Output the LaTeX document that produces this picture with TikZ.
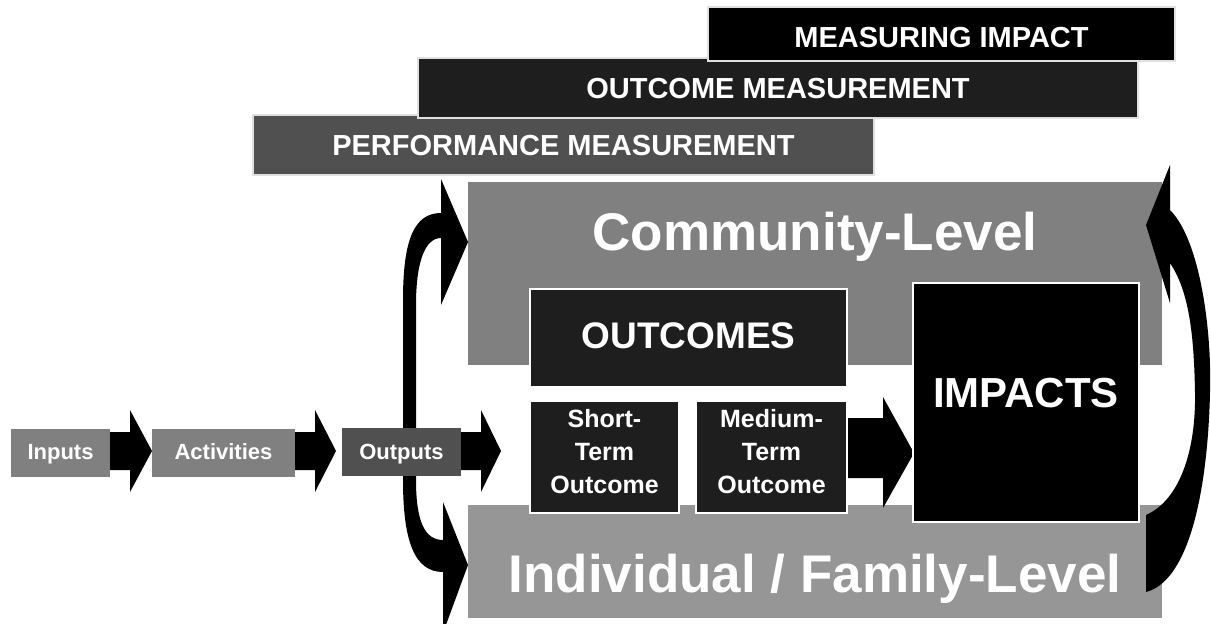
\documentclass[tikz,border=0pt]{standalone}
\usepackage{fontspec}
\setmainfont{Liberation Sans}
\definecolor{gmid}{HTML}{808080}
\definecolor{glight}{HTML}{969696}
\definecolor{gdark}{HTML}{505050}
\definecolor{gblack}{HTML}{1E1E1E}
\newcommand{\fs}[1]{\fontsize{#1}{#1}\selectfont\bfseries}
\begin{document}
\begin{tikzpicture}[x=1pt,y=-1pt,
  bar/.style={draw=white!88!black,line width=1.2pt},
  blk/.style={fill=black,draw=none},
  txt/.style={text=white,inner sep=0pt,anchor=base},
  boxed/.style={draw=white,line width=1.5pt},
  small/.style={text=white,inner sep=0pt,anchor=north,align=center,font=\fontsize{25}{33}\selectfont\bfseries}]
\useasboundingbox (0,0) rectangle (1211,624);
\fill[white] (0,0) rectangle (1211,624);
% measurement bars
\path[bar,fill=gdark] (253,115) rectangle (874,175);
\path[bar,fill=gblack] (418,58) rectangle (1138,118);
\path[bar,fill=black] (708,7) rectangle (1175,61);
\node[txt] (pm) at (563.5,155) {\fs{29}PERFORMANCE MEASUREMENT};
\node[txt] (om) at (778,98) {\fs{29}OUTCOME MEASUREMENT};
\node[txt] (mi) at (941.5,47) {\fs{29}MEASURING IMPACT};
% level boxes
\path[fill=gmid] (468,182) rectangle (1162,365);
\path[fill=glight] (468,505) rectangle (1162,618);
\node[txt] (comm) at (815,250) {\fs{53}Community-Level};
\node[txt] (indiv) at (815,592) {\fs{53}Individual / Family-Level};
% left bracket arrow
\path[blk] (441,213) -- (441,179) -- (468,242) -- (441,305) -- (441,238)
  .. controls (425,238) and (416,262) .. (416,305) -- (416,480)
  .. controls (416,522) and (425,540) .. (443,540) -- (443,502) -- (468,565)
  -- (443,633) -- (443,572) .. controls (414,572) and (403,540) .. (403,480)
  -- (403,300) .. controls (403,240) and (414,213) .. (441,213) -- cycle;
% right curved arrow
\path[blk] (1170,210) .. controls (1200,240) and (1212,330) .. (1210,393)
  .. controls (1208,480) and (1192,580) .. (1146,592) -- (1146,515)
  .. controls (1180,500) and (1196,450) .. (1195,393)
  .. controls (1194,330) and (1188,290) .. (1170,263)
  -- (1170,303) -- (1146,225) -- (1170,165) -- cycle;
% straight arrows
\path[blk] (100,432) -- (130,432) -- (130,410) -- (152,451) -- (130,492) -- (130,470) -- (100,470) -- cycle;
\path[blk] (285,432) -- (315,432) -- (315,410) -- (336,451) -- (315,492) -- (315,470) -- (285,470) -- cycle;
\path[blk] (450,432) -- (481,432) -- (481,410) -- (501,451) -- (481,492) -- (481,470) -- (450,470) -- cycle;
\path[blk] (845,418) -- (883,418) -- (883,397) -- (914,453) -- (883,508) -- (883,478) -- (845,478) -- cycle;
% process boxes
\path[fill=gmid] (11,429) rectangle (110,477);
\path[fill=gmid] (152,429) rectangle (295,477);
\path[fill=gdark] (342,428) rectangle (461,476);
\node[txt] (inp) at (60.5,459) {\fs{22}Inputs};
\node[txt] (act) at (223.5,459) {\fs{22}Activities};
\node[txt] (outp) at (401.5,459) {\fs{22}Outputs};
% outcomes
\path[boxed,fill=gblack] (530,289) rectangle (847,387);
\path[boxed,fill=gblack] (530,401) rectangle (679,513);
\path[boxed,fill=gblack] (696,401) rectangle (847,513);
\path[boxed,fill=black] (913,283) rectangle (1139,522);
\node[txt] (outc) at (688.5,348) {\fs{37}OUTCOMES};
\node[txt] (imp) at (1026,407) {\fs{42}IMPACTS};
\node[small] (st) at (604.5,409) {Short-\\Term\\Outcome};
\node[small] (mt) at (771.5,409) {Medium-\\Term\\Outcome};
\end{tikzpicture}
\end{document}
